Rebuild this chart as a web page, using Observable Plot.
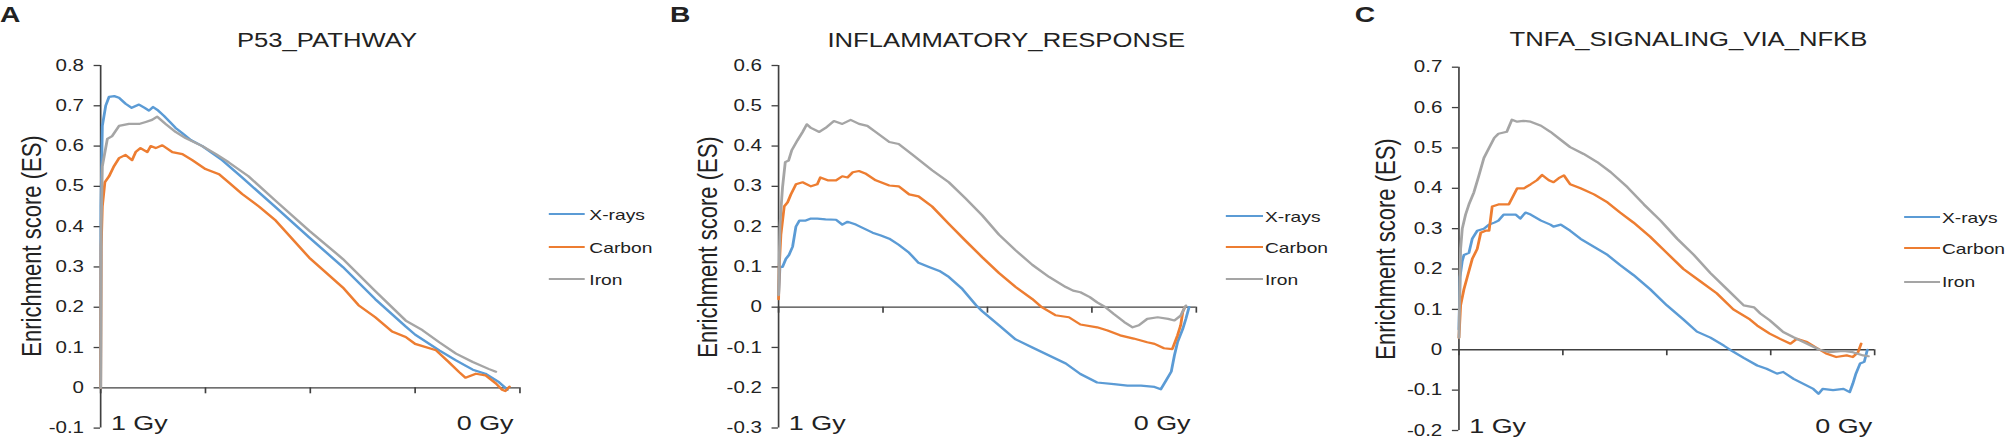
<!DOCTYPE html>
<html><head><meta charset="utf-8">
<script src="https://cdn.jsdelivr.net/npm/d3@7"></script>
<script src="https://cdn.jsdelivr.net/npm/@observablehq/plot@0.6"></script>
<style>
html,body{margin:0;padding:0;background:#fff;}
#stage{position:relative;width:1566px;height:444px;transform:scaleX(1.28225);transform-origin:0 0;font-family:"Liberation Sans",Arial,sans-serif;color:#222;}
.panel{position:absolute;top:0;width:522px;height:444px;}
.panel svg{position:absolute;left:0;top:0;}
.abs{position:absolute;white-space:nowrap;line-height:1;}
</style></head><body><div id="stage"></div>
<script>
// ---------- data ----------
const seriesNames = ["X-rays", "Carbon", "Iron"];
const seriesColors = ["#5B9BD5", "#ED7D31", "#A5A5A5"];
const panelLetters = ["A", "B", "C"];
const panelTitles = ["P53_PATHWAY", "INFLAMMATORY_RESPONSE", "TNFA_SIGNALING_VIA_NFKB"];
const yAxisTitle = "Enrichment score (ES)";
const xTicks = [0, 1, 2, 3, 4];
const xEndLabels = ["1 Gy", "0 Gy"];
const yTicksP53 = [-0.1, 0, 0.1, 0.2, 0.3, 0.4, 0.5, 0.6, 0.7, 0.8];
const yTicksInflam = [-0.3, -0.2, -0.1, 0, 0.1, 0.2, 0.3, 0.4, 0.5, 0.6];
const yTicksTnfa = [-0.2, -0.1, 0, 0.1, 0.2, 0.3, 0.4, 0.5, 0.6, 0.7];

// P53_PATHWAY  [x position along ranked list (tick units), ES]
const p53Xrays = [[0,0],[0.003,0.45],[0.016,0.65],[0.048,0.70],[0.08,0.722],[0.13,0.724],[0.175,0.72],[0.238,0.705],[0.296,0.695],[0.366,0.703],[0.42,0.695],[0.461,0.688],[0.5,0.697],[0.54,0.69],[0.604,0.675],[0.66,0.66],[0.715,0.645],[0.78,0.632],[0.859,0.615],[0.97,0.60],[1.16,0.565],[1.35,0.522],[1.67,0.448],[1.99,0.373],[2.31,0.30],[2.62,0.22],[2.91,0.152],[3.0,0.132],[3.23,0.093],[3.39,0.068],[3.48,0.055],[3.55,0.045],[3.67,0.035],[3.8,0.014],[3.86,0.0],[3.88,-0.005]];
const p53Carbon = [[0,0],[0.005,0.35],[0.016,0.45],[0.04,0.51],[0.08,0.525],[0.127,0.55],[0.175,0.57],[0.238,0.578],[0.3,0.565],[0.334,0.585],[0.38,0.595],[0.445,0.585],[0.477,0.60],[0.525,0.595],[0.588,0.602],[0.684,0.585],[0.78,0.58],[0.874,0.565],[1.0,0.543],[1.13,0.53],[1.22,0.51],[1.35,0.481],[1.51,0.45],[1.67,0.415],[1.99,0.323],[2.31,0.249],[2.46,0.205],[2.62,0.175],[2.78,0.14],[2.91,0.126],[3.0,0.109],[3.2,0.093],[3.32,0.064],[3.42,0.039],[3.48,0.025],[3.58,0.035],[3.67,0.031],[3.77,0.011],[3.83,-0.005],[3.86,-0.008],[3.9,0.003]];
const p53Iron = [[0,0],[0.005,0.4],[0.016,0.55],[0.064,0.618],[0.11,0.625],[0.175,0.65],[0.27,0.655],[0.366,0.655],[0.43,0.66],[0.49,0.665],[0.54,0.673],[0.62,0.655],[0.715,0.635],[0.81,0.62],[0.97,0.60],[1.1,0.58],[1.22,0.56],[1.41,0.525],[1.67,0.464],[1.99,0.39],[2.31,0.32],[2.62,0.24],[2.91,0.167],[3.07,0.143],[3.23,0.113],[3.39,0.085],[3.55,0.064],[3.7,0.047],[3.77,0.04]];

// INFLAMMATORY_RESPONSE
const inflamXrays = [[0,0.03],[0.013,0.1],[0.038,0.1],[0.07,0.12],[0.1,0.13],[0.134,0.15],[0.166,0.2],[0.2,0.215],[0.26,0.215],[0.31,0.22],[0.37,0.22],[0.45,0.218],[0.55,0.217],[0.61,0.205],[0.66,0.212],[0.74,0.205],[0.82,0.195],[0.9,0.185],[0.98,0.178],[1.06,0.17],[1.15,0.155],[1.25,0.135],[1.34,0.11],[1.44,0.1],[1.54,0.09],[1.63,0.075],[1.76,0.045],[1.89,0.005],[1.95,-0.01],[2.11,-0.045],[2.27,-0.08],[2.43,-0.1],[2.59,-0.12],[2.75,-0.14],[2.89,-0.166],[3.05,-0.187],[3.21,-0.191],[3.34,-0.195],[3.47,-0.195],[3.6,-0.198],[3.66,-0.204],[3.71,-0.182],[3.76,-0.16],[3.79,-0.12],[3.82,-0.087],[3.87,-0.054],[3.9,-0.029],[3.93,0]];
const inflamCarbon = [[0,0.02],[0.006,0.1],[0.022,0.18],[0.054,0.25],[0.086,0.26],[0.118,0.28],[0.166,0.305],[0.23,0.31],[0.31,0.30],[0.37,0.305],[0.4,0.322],[0.47,0.315],[0.55,0.315],[0.61,0.325],[0.66,0.322],[0.71,0.335],[0.77,0.338],[0.83,0.332],[0.93,0.315],[1.06,0.302],[1.15,0.30],[1.25,0.28],[1.34,0.275],[1.47,0.25],[1.63,0.207],[1.79,0.165],[1.95,0.124],[2.11,0.085],[2.27,0.05],[2.43,0.02],[2.52,0.0],[2.65,-0.02],[2.78,-0.025],[2.89,-0.043],[3.05,-0.05],[3.15,-0.058],[3.27,-0.07],[3.4,-0.078],[3.53,-0.087],[3.6,-0.091],[3.69,-0.102],[3.77,-0.104],[3.82,-0.07],[3.85,-0.045],[3.87,-0.012],[3.89,0]];
const inflamIron = [[0,0.03],[0.013,0.2],[0.022,0.24],[0.038,0.298],[0.064,0.36],[0.096,0.364],[0.127,0.39],[0.18,0.414],[0.23,0.435],[0.27,0.454],[0.31,0.445],[0.39,0.435],[0.45,0.445],[0.53,0.462],[0.61,0.455],[0.69,0.465],[0.77,0.455],[0.85,0.45],[0.93,0.435],[1.06,0.41],[1.15,0.405],[1.28,0.379],[1.47,0.34],[1.63,0.31],[1.79,0.27],[1.95,0.228],[2.11,0.18],[2.27,0.141],[2.43,0.105],[2.59,0.075],[2.75,0.05],[2.82,0.041],[2.89,0.037],[2.98,0.025],[3.05,0.012],[3.13,0],[3.21,-0.017],[3.31,-0.037],[3.39,-0.05],[3.45,-0.045],[3.53,-0.029],[3.63,-0.025],[3.73,-0.029],[3.79,-0.033],[3.85,-0.021],[3.89,0],[3.9,0.004]];

// TNFA_SIGNALING_VIA_NFKB
const tnfaXrays = [[0,0.05],[0.01,0.18],[0.032,0.22],[0.048,0.235],[0.096,0.24],[0.128,0.275],[0.176,0.295],[0.24,0.30],[0.29,0.31],[0.34,0.315],[0.38,0.32],[0.43,0.335],[0.48,0.335],[0.545,0.335],[0.59,0.325],[0.64,0.34],[0.69,0.335],[0.79,0.32],[0.88,0.31],[0.91,0.305],[0.98,0.31],[1.07,0.295],[1.17,0.275],[1.3,0.255],[1.43,0.235],[1.55,0.21],[1.68,0.185],[1.84,0.15],[2.0,0.11],[2.16,0.075],[2.29,0.045],[2.42,0.03],[2.55,0.01],[2.61,0],[2.74,-0.02],[2.87,-0.039],[2.96,-0.047],[3.06,-0.059],[3.12,-0.055],[3.22,-0.072],[3.31,-0.084],[3.41,-0.097],[3.46,-0.109],[3.5,-0.097],[3.6,-0.1],[3.7,-0.097],[3.76,-0.105],[3.79,-0.084],[3.82,-0.059],[3.86,-0.034],[3.9,-0.03],[3.92,-0.01],[3.93,0]];
const tnfaCarbon = [[0,0.03],[0.016,0.11],[0.048,0.15],[0.08,0.18],[0.128,0.225],[0.176,0.25],[0.21,0.29],[0.256,0.295],[0.29,0.295],[0.32,0.355],[0.38,0.36],[0.48,0.36],[0.51,0.375],[0.56,0.40],[0.625,0.40],[0.69,0.41],[0.75,0.42],[0.8,0.433],[0.865,0.42],[0.91,0.415],[0.96,0.425],[1.01,0.432],[1.07,0.41],[1.17,0.40],[1.3,0.385],[1.43,0.365],[1.55,0.34],[1.68,0.315],[1.84,0.28],[2.0,0.24],[2.16,0.20],[2.32,0.17],[2.48,0.14],[2.64,0.10],[2.8,0.075],[2.87,0.06],[2.99,0.04],[3.09,0.027],[3.19,0.015],[3.25,0.027],[3.35,0.019],[3.44,0.005],[3.54,-0.01],[3.63,-0.018],[3.73,-0.014],[3.79,-0.018],[3.84,-0.006],[3.87,0.015]];
const tnfaIron = [[0,0.03],[0.016,0.25],[0.032,0.30],[0.064,0.335],[0.096,0.36],[0.144,0.39],[0.19,0.43],[0.24,0.475],[0.29,0.50],[0.34,0.525],[0.38,0.535],[0.46,0.54],[0.51,0.57],[0.56,0.565],[0.62,0.567],[0.69,0.565],[0.79,0.555],[0.88,0.54],[0.98,0.52],[1.07,0.502],[1.2,0.485],[1.33,0.465],[1.46,0.44],[1.62,0.403],[1.78,0.36],[1.94,0.32],[2.1,0.275],[2.26,0.235],[2.42,0.19],[2.58,0.15],[2.74,0.11],[2.84,0.105],[2.9,0.09],[2.99,0.073],[3.12,0.044],[3.22,0.031],[3.35,0.015],[3.47,0],[3.57,-0.006],[3.7,-0.003],[3.79,-0.006],[3.89,-0.014],[3.94,-0.016]];

// ---------- layout (design units, stage is stretched horizontally) ----------
const panels = [
  {left: 0, ml: 78, mr: 117, mt: 65, mb: 16.4, yTicks: yTicksP53, series: [p53Xrays, p53Carbon, p53Iron],
   letterX: 0, titleX: 255, titleY: 47, yTitleX: 25, yTitleY: 246, legLine: [427.6, 456.3], legText: 459.6, legRows: [214, 247, 279], oGyDx: -5},
  {left: 522.5, ml: 83.7, mr: 112.5, mt: 65, mb: 16.5, yTicks: yTicksInflam, series: [inflamXrays, inflamCarbon, inflamIron],
   letterX: 0, titleX: 262.3, titleY: 47, yTitleX: 29.5, yTitleY: 247, legLine: [433, 462], legText: 464, legRows: [216, 247.3, 279.3], oGyDx: -4.5},
  {left: 1043.5, ml: 93.3, mr: 104.5, mt: 66.7, mb: 14, yTicks: yTicksTnfa, series: [tnfaXrays, tnfaCarbon, tnfaIron],
   letterX: 13, titleX: 273.3, titleY: 46, yTitleX: 37.5, yTitleY: 249, legLine: [441, 469], legText: 471, legRows: [217.3, 248.3, 281.7], oGyDx: -2}
];

const FONT = '"Liberation Sans", Arial, sans-serif';
const AXIS = "#404040";
const fmt = d => Math.abs(d) < 1e-9 ? "0" : (+d).toFixed(1);

const stage = document.getElementById("stage");

function addText(parent, txt, x, baseline, size, opts = {}) {
  const el = document.createElement("div");
  el.className = "abs";
  el.textContent = txt;
  el.style.fontSize = size + "px";
  el.style.top = (baseline - 0.8465 * size) + "px";
  if (opts.bold) el.style.fontWeight = "bold";
  if (opts.center) { el.style.left = x + "px"; el.style.transform = "translateX(-50%)"; }
  else el.style.left = x + "px";
  parent.appendChild(el);
  return el;
}

panels.forEach((cfg, pi) => {
  const div = document.createElement("div");
  div.className = "panel";
  div.style.left = cfg.left + "px";
  stage.appendChild(div);

  const data = cfg.series.flatMap((s, i) => s.map(([x, y]) => ({x, y, name: seriesNames[i]})));
  const ymin = cfg.yTicks[0], ymax = cfg.yTicks[cfg.yTicks.length - 1];

  const chart = Plot.plot({
    width: 522, height: 444,
    marginLeft: cfg.ml, marginRight: cfg.mr, marginTop: cfg.mt, marginBottom: cfg.mb,
    x: {domain: [xTicks[0], xTicks[xTicks.length - 1]], axis: null},
    y: {domain: [ymin, ymax], axis: null},
    color: {domain: seriesNames, range: seriesColors},
    style: {fontFamily: FONT, fontSize: "16px", color: "#222", background: "transparent", overflow: "visible"},
    marks: [
      Plot.axisY({ticks: cfg.yTicks, tickSize: 5, tickPadding: 8, fontSize: 16, tickFormat: fmt, label: null, stroke: AXIS, strokeWidth: 1.3, fill: "#222"}),
      Plot.ruleX([0], {stroke: AXIS, strokeWidth: 1.3}),
      Plot.ruleY([0], {stroke: AXIS, strokeWidth: 1.3}),
      Plot.ruleX(xTicks, {x: d => d, y1: 0, y2: 0, insetBottom: -6, stroke: AXIS, strokeWidth: 1.3}),
      Plot.line(data, {x: "x", y: "y", z: "name", stroke: "name", strokeWidth: 2.2, strokeLinejoin: "round", strokeLinecap: "round"}),
      Plot.text([xEndLabels[0]], {x: xTicks[0], y: ymin, text: d => d, textAnchor: "start", lineAnchor: "bottom", dx: 8, dy: 2, fontSize: 21, fill: "#222"}),
      Plot.text([xEndLabels[1]], {x: xTicks[xTicks.length - 1], y: ymin, text: d => d, textAnchor: "end", lineAnchor: "bottom", dx: cfg.oGyDx, dy: 2, fontSize: 21, fill: "#222"})
    ]
  });
  div.appendChild(chart);

  // panel letter and title
  addText(div, panelLetters[pi], cfg.letterX, 23, 22, {bold: true});
  addText(div, panelTitles[pi], cfg.titleX, cfg.titleY, 20, {center: true});

  // y-axis title
  const yt = document.createElement("div");
  yt.className = "abs";
  yt.textContent = yAxisTitle;
  yt.style.fontSize = "22px";
  yt.style.left = cfg.yTitleX + "px";
  yt.style.top = cfg.yTitleY + "px";
  yt.style.transform = "translate(-50%,-50%) rotate(-90deg)";
  div.appendChild(yt);

  // legend
  seriesNames.forEach((name, i) => {
    const y = cfg.legRows[i];
    const sw = document.createElement("div");
    sw.style.position = "absolute";
    sw.style.left = cfg.legLine[0] + "px";
    sw.style.width = (cfg.legLine[1] - cfg.legLine[0]) + "px";
    sw.style.top = (y - 1) + "px";
    sw.style.height = "2px";
    sw.style.background = seriesColors[i];
    div.appendChild(sw);
    const fs = 15;
    const t = document.createElement("div");
    t.className = "abs";
    t.textContent = name;
    t.style.fontSize = fs + "px";
    t.style.left = cfg.legText + "px";
    t.style.top = (y - 0.4885 * fs) + "px";
    div.appendChild(t);
  });
});
</script>
</body></html>
